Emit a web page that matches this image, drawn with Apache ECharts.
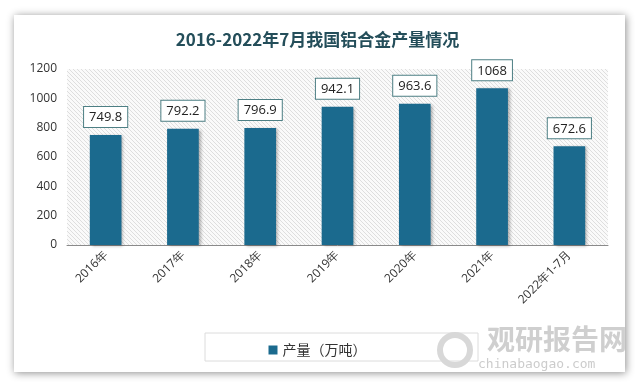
<!DOCTYPE html>
<html><head><meta charset="utf-8">
<script src="https://cdn.jsdelivr.net/npm/echarts@6/dist/echarts.min.js"></script>
<style>html,body{margin:0;padding:0;background:#fff}#c{width:635px;height:382px}</style>
</head><body><div id="c"></div>
<script>
var titleText = '2016-2022年7月我国铝合金产量情况';
var categories = ['2016年','2017年','2018年','2019年','2020年','2021年','2022年1-7月'];
var seriesName = '产量（万吨）';
var values = [749.8, 792.2, 796.9, 942.1, 963.6, 1068, 672.6];
var yTicks = [0, 200, 400, 600, 800, 1000, 1200];

var pc = document.createElement('canvas');
pc.width = 4; pc.height = 4;
var g = pc.getContext('2d');
g.fillStyle = '#fafafa'; g.fillRect(0,0,4,4);
g.strokeStyle = '#dedede'; g.lineWidth = 1;
g.beginPath(); g.moveTo(-1,-1); g.lineTo(5,5); g.stroke();
g.beginPath(); g.moveTo(-1,3); g.lineTo(1,5); g.stroke();
g.beginPath(); g.moveTo(3,-1); g.lineTo(5,1); g.stroke();

var chart = echarts.init(document.getElementById('c'), null, {renderer:'canvas'});
chart.setOption({
  backgroundColor: '#ffffff',
  animation: false,
  graphic: [
    {type:'rect', z:-10, shape:{x:14,y:15,width:611,height:357},
     style:{fill:'#fff', shadowBlur:8, shadowColor:'rgba(0,0,0,0.45)', shadowOffsetX:1, shadowOffsetY:1}},
    {type:'rect', z:1, shape:{x:205,y:333,width:273,height:28},
     style:{fill:'#fff', stroke:'#dcdcdc', lineWidth:1}},
    {type:'text', z:2, left:487, top:325,
     style:{text:'观研报告网', fill:'#cfcfcf', font:'bold 28px "Noto Sans CJK SC"'}},
    {type:'text', z:2, left:478, top:358,
     style:{text:'chinabaogao.com', fill:'#cccccc', font:'13px "DejaVu Sans Mono"'}},
    {type:'circle', z:2, shape:{cx:455,cy:350,r:15},
     style:{fill:'none', stroke:'#d8d8d8', lineWidth:6}}
  ],
  title: {
    text: titleText, left: 'center', top: 26,
    textStyle: {fontSize: 17, fontWeight: 'bold', color: '#244e5a', fontFamily: '"Noto Sans CJK SC"'}
  },
  legend: {
    data: [seriesName], left: 'center', top: 338, itemWidth: 9, itemHeight: 9, icon: 'rect',
    textStyle: {fontSize: 14, color: '#333', fontFamily: '"Noto Sans CJK SC"'},
    z: 5
  },
  grid: {left: 67, right: 27, top: 69, bottom: 137, show: true, borderWidth: 0,
         backgroundColor: {image: pc, repeat: 'repeat'}},
  xAxis: {
    type: 'category', data: categories,
    axisLine: {lineStyle: {color: '#8a8a8a'}},
    axisTick: {show: false},
    axisLabel: {rotate: 45, fontSize: 12, color: '#333', margin: 8, fontFamily: '"Open Sans"'}
  },
  yAxis: {
    type: 'value', min: 0, max: 1200, interval: 200,
    axisLine: {show: false}, axisTick: {show: false}, splitLine: {show: false},
    axisLabel: {fontSize: 12, color: '#333', margin: 10, fontFamily: '"Open Sans"',
      formatter: function(v){ return yTicks.indexOf(v) >= 0 ? String(v) : ''; }}
  },
  series: [{
    name: seriesName, type: 'bar', data: values, barWidth: '41%',
    itemStyle: {color: '#1b6a8e', shadowBlur: 3, shadowOffsetX: 2, shadowOffsetY: 1, shadowColor: 'rgba(0,0,0,0.3)'},
    label: {show: true, position: 'top', distance: 8, fontSize: 13, color: '#222',
      fontFamily: '"Open Sans"',
      backgroundColor: '#fff', borderColor: '#4d7f84', borderWidth: 1, padding: [4,5,3,5]}
  }]
});
</script></body></html>
